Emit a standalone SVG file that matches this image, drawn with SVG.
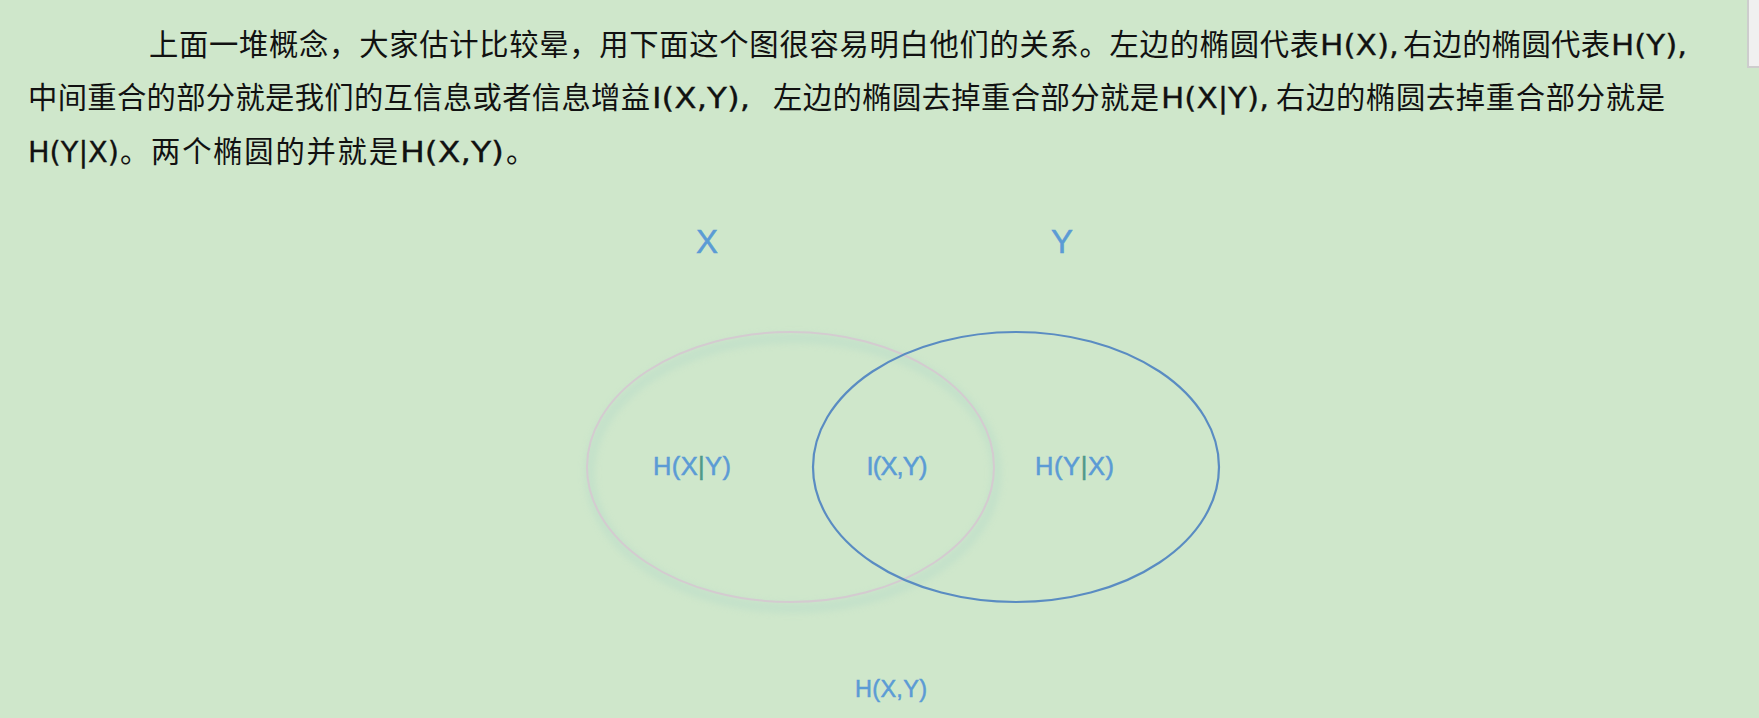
<svg xmlns="http://www.w3.org/2000/svg" width="1759" height="718" viewBox="0 0 1759 718">
<style>
.cjk{font-family:"Noto Sans CJK SC","Liberation Sans",sans-serif;font-size:29.3px;fill:#111111}
.lat{font-family:"DejaVu Sans","Liberation Sans",sans-serif;font-size:28.5px;fill:#111111;stroke:#111111;stroke-width:0.3px}
.lbl{font-family:"Liberation Sans","Noto Sans",sans-serif;fill:#5b9bd5;stroke:#5b9bd5;stroke-width:0.5px;text-anchor:middle}
.bar{fill:#4f9a8a;stroke:#4f9a8a}
</style>
<defs>
<filter id="soft" x="-20%" y="-20%" width="140%" height="140%">
<feGaussianBlur stdDeviation="4"/>
</filter>
</defs>
<rect x="0" y="0" width="1759" height="718" fill="#cfe7cb"/>
<rect x="1748" y="-2" width="13" height="69" fill="#f0f0f0" stroke="#cdcdcd" stroke-width="2"/>

<g id="paragraph">
<text class="cjk" x="149" y="55" textLength="1170" lengthAdjust="spacing">上面一堆概念，大家估计比较晕，用下面这个图很容易明白他们的关系。左边的椭圆代表</text>
<text class="lat" x="1320" y="55" textLength="79" lengthAdjust="spacingAndGlyphs">H(X),</text>
<text class="cjk" x="1403" y="55" textLength="207" lengthAdjust="spacing">右边的椭圆代表</text>
<text class="lat" x="1611" y="55" textLength="76" lengthAdjust="spacingAndGlyphs">H(Y),</text>

<text class="cjk" x="28" y="108" textLength="622" lengthAdjust="spacing">中间重合的部分就是我们的互信息或者信息增益</text>
<text class="lat" x="652" y="108" textLength="98" lengthAdjust="spacingAndGlyphs">I(X,Y),</text>
<text class="cjk" x="773" y="108" textLength="386" lengthAdjust="spacing">左边的椭圆去掉重合部分就是</text>
<text class="lat" x="1161" y="108" textLength="108" lengthAdjust="spacingAndGlyphs">H(X|Y),</text>
<text class="cjk" x="1276" y="108" textLength="389" lengthAdjust="spacing">右边的椭圆去掉重合部分就是</text>

<text class="lat" x="28" y="161.5" textLength="91" lengthAdjust="spacingAndGlyphs">H(Y|X)</text>
<text class="cjk" x="120" y="161.5" textLength="278" lengthAdjust="spacing">。两个椭圆的并就是</text>
<text class="lat" x="400" y="161.5" textLength="104" lengthAdjust="spacingAndGlyphs">H(X,Y)</text>
<text class="cjk" x="506" y="161.5">。</text>
</g>

<g id="setX">
<ellipse cx="793" cy="473" rx="203.5" ry="135" fill="none" stroke="#9fcfc6" stroke-width="7" opacity="0.35" filter="url(#soft)"/>
<ellipse cx="790.5" cy="467" rx="203.5" ry="135" fill="none" stroke="#d4cbd0" stroke-width="2"/>
<text class="lbl" x="707" y="253" font-size="33">X</text>
</g>

<g id="setY">
<ellipse cx="1016" cy="467" rx="203" ry="135" fill="none" stroke="#5a8cc2" stroke-width="2.2"/>
<text class="lbl" x="1062" y="253" font-size="33">Y</text>
</g>

<g id="H_X_given_Y">
<text class="lbl" x="692" y="475" font-size="25.5" textLength="78" lengthAdjust="spacing">H(X<tspan class="bar">|</tspan>Y)</text>
</g>

<g id="I_XY">
<text class="lbl" x="897" y="475" font-size="25.5" textLength="61" lengthAdjust="spacing">I(X,Y)</text>
</g>

<g id="H_Y_given_X">
<text class="lbl" x="1074.5" y="475" font-size="25.5" textLength="79" lengthAdjust="spacing">H(Y<tspan class="bar">|</tspan>X)</text>
</g>

<g id="H_XY">
<text class="lbl" x="891" y="697" font-size="23.5" textLength="72" lengthAdjust="spacing">H(X,Y)</text>
</g>
</svg>
